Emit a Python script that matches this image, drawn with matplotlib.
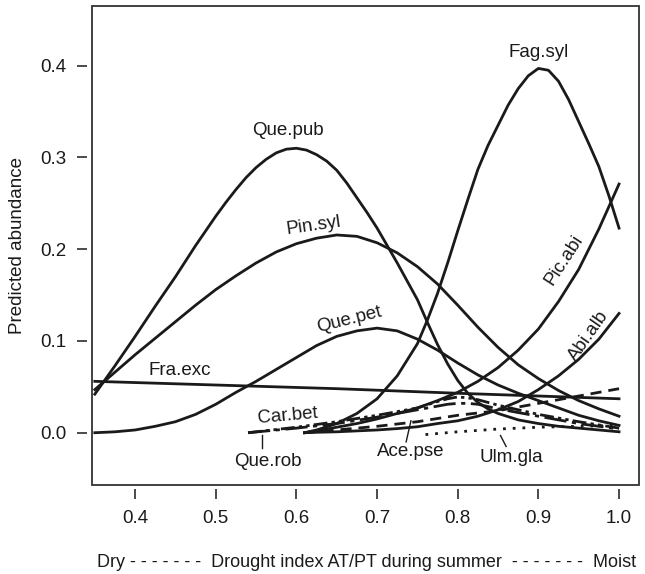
import matplotlib
matplotlib.use("Agg")
import matplotlib.pyplot as plt
from matplotlib.patches import Rectangle

plt.rcParams['font.family'] = ['Liberation Sans', 'DejaVu Sans']

# drought index (x) and predicted abundance (y)
x_pub = [0.35, 0.375, 0.4, 0.425, 0.45, 0.475, 0.5, 0.5125, 0.525, 0.5375, 0.55, 0.5625, 0.575, 0.5875,
         0.6, 0.6125, 0.625, 0.6375, 0.65, 0.6625, 0.675, 0.6875, 0.7, 0.7125, 0.725, 0.7375, 0.75,
         0.7625, 0.775, 0.7875, 0.8, 0.8125, 0.825, 0.8375, 0.85, 0.875, 0.9, 0.925, 0.95, 0.975, 1.0]
que_pub = [0.042, 0.073, 0.105, 0.138, 0.170, 0.204, 0.236, 0.251, 0.265, 0.278, 0.289, 0.298, 0.305, 0.309,
           0.310, 0.308, 0.303, 0.296, 0.286, 0.272, 0.256, 0.240, 0.223, 0.204, 0.185, 0.165, 0.145,
           0.120, 0.096, 0.075, 0.057, 0.043, 0.033, 0.026, 0.021, 0.014, 0.010, 0.007, 0.005, 0.003, 0.001]

x_full = [0.35, 0.375, 0.4, 0.425, 0.45, 0.475, 0.5, 0.525, 0.55, 0.575, 0.6, 0.625, 0.65, 0.675,
          0.7, 0.725, 0.75, 0.775, 0.8, 0.825, 0.85, 0.875, 0.9, 0.925, 0.95, 0.975, 1.0]
pin_syl = [0.047, 0.066, 0.085, 0.103, 0.121, 0.139, 0.156, 0.171, 0.185, 0.197, 0.206, 0.212, 0.2155, 0.214,
           0.207, 0.196, 0.181, 0.162, 0.139, 0.115, 0.093, 0.074, 0.059, 0.046, 0.035, 0.026, 0.018]
que_pet = [0.000, 0.001, 0.003, 0.007, 0.012, 0.020, 0.031, 0.044, 0.056, 0.069, 0.082, 0.095, 0.105, 0.111,
           0.114, 0.111, 0.102, 0.090, 0.076, 0.063, 0.052, 0.043, 0.035, 0.027, 0.019, 0.013, 0.008]

x_fra = [0.35, 0.5, 0.65, 0.8, 1.0]
fra_exc = [0.056, 0.052, 0.048, 0.043, 0.037]

x_fag = [0.61, 0.625, 0.65, 0.675, 0.7, 0.725, 0.75, 0.7625, 0.775, 0.7875, 0.8, 0.8125, 0.825, 0.8375,
         0.85, 0.8625, 0.875, 0.8875, 0.9, 0.9125, 0.925, 0.9375, 0.95, 0.9625, 0.975, 0.9875, 1.0]
fag_syl = [0.000, 0.003, 0.010, 0.021, 0.037, 0.062, 0.097, 0.123, 0.152, 0.185, 0.220, 0.254, 0.287, 0.313,
           0.335, 0.357, 0.375, 0.389, 0.397, 0.395, 0.383, 0.363, 0.339, 0.315, 0.290, 0.258, 0.223]

x_mid = [0.61, 0.625, 0.65, 0.675, 0.7, 0.725, 0.75, 0.775, 0.8, 0.825, 0.85, 0.875, 0.9, 0.925, 0.95, 0.975, 1.0]
pic_abi = [0.000, 0.002, 0.006, 0.010, 0.015, 0.021, 0.027, 0.035, 0.044, 0.056, 0.071, 0.090, 0.113, 0.143,
           0.178, 0.222, 0.271]
abi_alb = [0.000, 0.0005, 0.001, 0.002, 0.003, 0.0045, 0.0065, 0.010, 0.013, 0.018, 0.025, 0.034, 0.047, 0.062,
           0.080, 0.102, 0.130]

x_ace = [0.61, 0.65, 0.7, 0.75, 0.8, 0.85, 0.9, 0.95, 1.0]
ace_pse = [0.000, 0.003, 0.007, 0.012, 0.019, 0.024, 0.032, 0.040, 0.048]

x_small = [0.54, 0.6, 0.65, 0.7, 0.75, 0.775, 0.7875, 0.8, 0.8125, 0.825, 0.85, 0.9, 0.95, 1.0]
car_bet = [0.000, 0.006, 0.012, 0.019, 0.027, 0.034, 0.037, 0.039, 0.038, 0.036, 0.030, 0.020, 0.012, 0.005]
que_rob = [0.000, 0.005, 0.010, 0.017, 0.025, 0.029, 0.031, 0.032, 0.032, 0.031, 0.026, 0.018, 0.010, 0.004]

x_ulm = [0.76, 0.8, 0.85, 0.9, 0.95, 1.0]
ulm_gla = [-0.002, 0.001, 0.004, 0.006, 0.007, 0.008]

ink = '#1a1a1a'
fs = 13.5

fig = plt.figure(figsize=(6.45, 5.74), dpi=100)
ax = fig.add_axes([0.142, 0.155, 0.849, 0.8345])

lw = 2.0
ax.plot(x_pub, que_pub, color=ink, lw=lw)
ax.plot(x_full, pin_syl, color=ink, lw=lw)
ax.plot(x_full, que_pet, color=ink, lw=lw)
ax.plot(x_fra, fra_exc, color=ink, lw=lw)
ax.plot(x_fag, fag_syl, color=ink, lw=lw)
ax.plot(x_mid, pic_abi, color=ink, lw=lw)
ax.plot(x_mid, abi_alb, color=ink, lw=lw)
ax.plot(x_ace, ace_pse, color=ink, lw=lw, linestyle=(0, (4, 2.5)))
ax.plot(x_small, car_bet, color=ink, lw=lw, linestyle=(0, (5, 1.5, 1.2, 1.5, 1.2, 1.5)))
ax.plot(x_small, que_rob, color=ink, lw=lw, linestyle=(0, (8, 2, 1.5, 2)))
ax.plot(x_ulm, ulm_gla, color=ink, lw=lw, linestyle=(0, (1, 2.5)))

# species labels
tk = dict(color=ink, fontsize=fs, ha='center', va='center')
ax.text(0.59, 0.329, 'Que.pub', **tk)
ax.text(0.621, 0.226, 'Pin.syl', rotation=8, **tk)
ax.text(0.666, 0.123, 'Que.pet', rotation=14, **tk)
ax.text(0.455, 0.068, 'Fra.exc', **tk)
ax.text(0.90, 0.4146, 'Fag.syl', **tk)
ax.text(0.932, 0.188, 'Pic.abi', rotation=57, **tk)
ax.text(0.962, 0.105, 'Abi.alb', rotation=55, **tk)
ax.text(0.589, 0.018, 'Car.bet', rotation=5, **tk)
ax.text(0.564, -0.031, 'Que.rob', **tk)
ax.text(0.742, -0.021, 'Ace.pse', **tk)
ax.text(0.867, -0.0265, 'Ulm.gla', **tk)
ax.plot([0.557, 0.557], [-0.003, -0.017], color=ink, lw=1)
ax.plot([0.742, 0.736], [0.013, -0.010], color=ink, lw=1)
ax.plot([0.853, 0.860], [-0.003, -0.015], color=ink, lw=1)

ax.set_xlim(0.346, 1.025)
ax.set_ylim(-0.057, 0.465)
ax.set_xticks([0.4, 0.5, 0.6, 0.7, 0.8, 0.9, 1.0])
ax.set_xticklabels(['0.4', '0.5', '0.6', '0.7', '0.8', '0.9', '1.0'])
ax.set_yticks([0.0, 0.1, 0.2, 0.3, 0.4])
ax.set_yticklabels(['0.0', '0.1', '0.2', '0.3', '0.4'])

# R-like axes: box plus detached tick marks
for s in ax.spines.values():
    s.set_visible(False)
ax.spines['bottom'].set_position(('outward', 3))
ax.spines['left'].set_position(('outward', 3))
ax.add_patch(Rectangle((0, 0), 1, 1, transform=ax.transAxes, fill=False,
                       edgecolor='#333333', lw=1.3, clip_on=False))
ax.tick_params(direction='out', length=7, width=1.1, color=ink, labelsize=fs,
               labelcolor=ink, pad=8)

ax.set_ylabel('Predicted abundance', fontsize=fs, color=ink, labelpad=10)
fig.text(0.568, 0.012, 'Dry - - - - - - -  Drought index AT/PT during summer  - - - - - - -  Moist',
         fontsize=13, color=ink, ha='center', va='baseline')

fig.savefig('out.png', dpi=100)
